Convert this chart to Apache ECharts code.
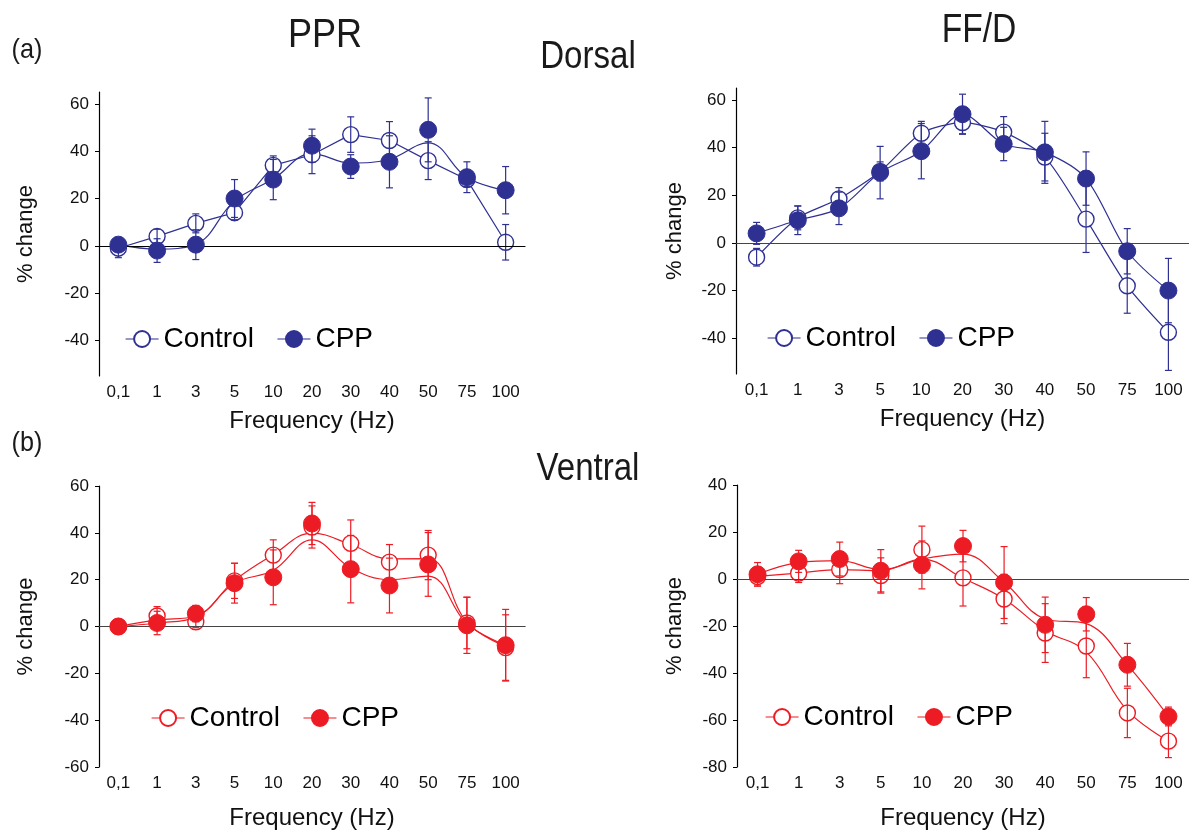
<!DOCTYPE html>
<html>
<head>
<meta charset="utf-8">
<script src="https://cdn.jsdelivr.net/npm/echarts@6/dist/echarts.min.js"></script>
<style>
  html, body { margin: 0; padding: 0; background: #fff; }
  #chart { width: 1189px; height: 831px; }
</style>
</head>
<body>
<div id="chart"></div>
<script>
var freqLabels = ['0,1', '1', '3', '5', '10', '20', '30', '40', '50', '75', '100'];

// (a) dorsal, PPR
var dorsalPprControl = [-1, 4, 9.5, 14, 34, 38.5, 47, 44.5, 36, 28, 1.5];
var dorsalPprControlErr = [4, 3, 4, 3, 4, 8, 7.5, 8, 8, 3, 7.5];
var dorsalPprCpp = [0.5, -2, 0.5, 20, 28, 42.3, 33.5, 35.5, 49, 29, 23.5];
var dorsalPprCppErr = [3, 5, 6.3, 8, 8.5, 7, 5, 11, 13.5, 6.5, 10];
var dorsalPprCppCurve = [0.5, -1.4, 0.7, 19, 28.2, 39, 35, 36.6, 43.5, 28.9, 23.4];

// (a) dorsal, FF/D
var dorsalFfdControl = [-6, 10.5, 18.5, 30, 46, 50.5, 46.5, 36, 10, -18, -37.5];
var dorsalFfdControlErr = [3.7, 5, 4.7, 4, 5, 4.7, 6.5, 10, 14, 11.5, 16];
var dorsalFfdCpp = [4, 9.5, 14.5, 29.5, 38.5, 54, 41.5, 38, 27, -3.5, -20];
var dorsalFfdCppErr = [4.6, 6, 6.8, 11, 11.6, 8.4, 7, 13, 11.2, 9.5, 13.5];

// (b) ventral, PPR
var ventralPprControl = [0, 4.5, 2, 19.5, 30.5, 42.5, 35.5, 27.5, 30.5, 1.5, -9];
var ventralPprControlErr = [2, 4, 2.5, 7.5, 6.5, 9, 10, 7.5, 10.5, 11, 14];
var ventralPprControlCurve = [0, 2.8, 4.5, 19.7, 30.7, 39.9, 35, 28.9, 29, 1.8, -8.5];
var ventralPprCpp = [0, 1.5, 5.5, 18.5, 21, 44, 24.5, 17.5, 26.5, 0.5, -8];
var ventralPprCppErr = [2, 5, 3.5, 8.5, 11.7, 9, 14.4, 11.7, 13.6, 12, 15.3];
var ventralPprCppCurve = [0, 1.5, 4, 18.5, 24, 37, 25, 20, 21.5, 1.2, -8];

// (b) ventral, FF/D
var ventralFfdControl = [1, 2.5, 4, 1.5, 12.5, 0.5, -8.5, -23, -28.5, -57, -69];
var ventralFfdControlErr = [4, 4, 6, 7.5, 10, 12, 10.5, 12.5, 13.5, 10.5, 7];
var ventralFfdControlCurve = [1.1, 2.5, 4, 3.5, 8.5, 0.3, -8.5, -22, -31, -56, -69];
var ventralFfdCpp = [2, 7.5, 8.5, 3.5, 6, 14, -1.5, -19.5, -15, -36.5, -58.5];
var ventralFfdCppErr = [5, 4.7, 7.2, 9, 10.2, 6.7, 15.3, 11.8, 7.1, 9.1, 4];
var ventralFfdCppCurve = [2, 7, 7.8, 4, 8.5, 10.6, -1.4, -17, -19, -36.5, -58.5];

var yTicksTop = [-40, -20, 0, 20, 40, 60];
var yTicksVentralPpr = [-60, -40, -20, 0, 20, 40, 60];
var yTicksVentralFfd = [-80, -60, -40, -20, 0, 20, 40];

var NAVY = '#2e3192';
var RED = '#ed1c24';
var FONT = "'Liberation Sans', Arial, sans-serif";

var panels = [
  { key: 'a1', grid: { left: 99, top: 92, width: 426, height: 284 }, min: -55, max: 65, ticks: yTicksTop,
    color: NAVY, nameGap: 33, yNameGap: 62,
    control: dorsalPprControl, controlErr: dorsalPprControlErr, controlCurve: null, controlSmooth: false,
    cpp: dorsalPprCpp, cppErr: dorsalPprCppErr, cppCurve: dorsalPprCppCurve,
    legend: { left: 120, top: 320 } },
  { key: 'a2', grid: { left: 736, top: 88, width: 456, height: 286 }, min: -55, max: 65, ticks: yTicksTop,
    color: NAVY, nameGap: 33, yNameGap: 50,
    control: dorsalFfdControl, controlErr: dorsalFfdControlErr, controlCurve: null, controlSmooth: 0.25,
    cpp: dorsalFfdCpp, cppErr: dorsalFfdCppErr, cppCurve: null,
    legend: { left: 762, top: 319 } },
  { key: 'b1', grid: { left: 99, top: 486, width: 426, height: 283 }, min: -60, max: 60, ticks: yTicksVentralPpr,
    color: RED, nameGap: 39, yNameGap: 62,
    control: ventralPprControl, controlErr: ventralPprControlErr, controlCurve: ventralPprControlCurve, controlSmooth: 0.4,
    cpp: ventralPprCpp, cppErr: ventralPprCppErr, cppCurve: ventralPprCppCurve,
    legend: { left: 146, top: 699 } },
  { key: 'b2', grid: { left: 737, top: 485, width: 456, height: 284 }, min: -80, max: 40, ticks: yTicksVentralFfd,
    color: RED, nameGap: 39, yNameGap: 51,
    control: ventralFfdControl, controlErr: ventralFfdControlErr, controlCurve: ventralFfdControlCurve, controlSmooth: 0.4,
    cpp: ventralFfdCpp, cppErr: ventralFfdCppErr, cppCurve: ventralFfdCppCurve,
    legend: { left: 760, top: 698 } }
];

function errRows(means, errs) {
  return means.map(function (m, i) { return [i, m - errs[i], m + errs[i]]; });
}

function errorBarSeries(name, idx, color, rows, z) {
  return {
    name: name, type: 'custom', xAxisIndex: idx, yAxisIndex: idx, z: z, silent: true,
    data: rows,
    renderItem: function (params, api) {
      var x = api.value(0);
      var lo = api.coord([x, api.value(1)]);
      var hi = api.coord([x, api.value(2)]);
      var w = 3.5;
      var st = { stroke: color, lineWidth: 1.2 };
      return {
        type: 'group',
        children: [
          { type: 'line', shape: { x1: lo[0], y1: lo[1], x2: hi[0], y2: hi[1] }, style: st },
          { type: 'line', shape: { x1: hi[0] - w, y1: hi[1], x2: hi[0] + w, y2: hi[1] }, style: st },
          { type: 'line', shape: { x1: lo[0] - w, y1: lo[1], x2: lo[0] + w, y2: lo[1] }, style: st }
        ]
      };
    }
  };
}

var grids = [], xAxes = [], yAxes = [], series = [], legends = [];

panels.forEach(function (p, i) {
  grids.push(p.grid);
  xAxes.push({
    type: 'category', gridIndex: i, data: freqLabels, boundaryGap: true,
    axisLine: { lineStyle: { color: '#000', width: 1.2 } },
    axisTick: { alignWithLabel: true, length: 5, lineStyle: { color: '#000' } },
    axisLabel: { fontSize: 17, color: '#111', margin: 8, fontFamily: FONT },
    name: 'Frequency (Hz)', nameLocation: 'middle', nameGap: p.nameGap,
    nameTextStyle: { fontSize: 24, color: '#111', fontFamily: FONT }
  });
  yAxes.push({
    type: 'value', gridIndex: i, min: p.min, max: p.max,
    splitLine: { show: false },
    axisLine: { show: true, lineStyle: { color: '#000', width: 1.2 } },
    axisTick: { show: true, length: 4, customValues: p.ticks, lineStyle: { color: '#000' } },
    axisLabel: { fontSize: 17, color: '#111', margin: 10, customValues: p.ticks, fontFamily: FONT },
    name: '% change', nameLocation: 'middle', nameGap: p.yNameGap, nameRotate: 90,
    nameTextStyle: { fontSize: 22, color: '#111', fontFamily: FONT }
  });

  var cName = 'Control|' + p.key;
  var pName = 'CPP|' + p.key;

  // zero line
  series.push({
    name: 'zero|' + p.key, type: 'line', xAxisIndex: i, yAxisIndex: i, data: [], silent: true,
    markLine: {
      silent: true, symbol: 'none', label: { show: false },
      lineStyle: { color: i === 0 ? '#000' : '#444', width: 1.2, type: 'solid' },
      data: [{ yAxis: 0 }]
    }
  });

  // fitted curves where they do not pass through the points
  if (p.controlCurve) {
    series.push({
      name: 'ctrlcurve|' + p.key, type: 'line', xAxisIndex: i, yAxisIndex: i, z: 2, silent: true,
      data: p.controlCurve, smooth: p.controlSmooth, showSymbol: false,
      lineStyle: { color: p.color, width: 1.2 }
    });
  }
  if (p.cppCurve) {
    series.push({
      name: 'cppcurve|' + p.key, type: 'line', xAxisIndex: i, yAxisIndex: i, z: 2, silent: true,
      data: p.cppCurve, smooth: 0.4, showSymbol: false,
      lineStyle: { color: p.color, width: 1.2 }
    });
  }

  series.push({
    name: cName, type: 'line', xAxisIndex: i, yAxisIndex: i, z: 3,
    data: p.control, smooth: p.controlSmooth,
    symbol: 'circle', symbolSize: 16,
    itemStyle: { color: '#fff', borderColor: p.color, borderWidth: 1.4 },
    lineStyle: { color: p.color, width: 1.2, opacity: p.controlCurve ? 0 : 1 }
  });
  series.push(errorBarSeries('ctrlerr|' + p.key, i, p.color, errRows(p.control, p.controlErr), 4));
  series.push(errorBarSeries('cpperr|' + p.key, i, p.color, errRows(p.cpp, p.cppErr), 5));
  series.push({
    name: pName, type: 'line', xAxisIndex: i, yAxisIndex: i, z: 6,
    data: p.cpp, smooth: 0.3,
    symbol: 'circle', symbolSize: 17,
    itemStyle: { color: p.color, borderColor: p.color, borderWidth: 1 },
    lineStyle: { color: p.color, width: 1.2, opacity: p.cppCurve ? 0 : 1 }
  });

  legends.push({
    left: p.legend.left, top: p.legend.top, orient: 'horizontal',
    itemWidth: 33, itemHeight: 20, itemGap: 23, selectedMode: false,
    textStyle: { fontSize: 28, color: '#000', fontFamily: FONT },
    formatter: function (n) { return n.split('|')[0]; },
    data: [
      { name: cName, lineStyle: { opacity: 1, color: p.color, width: 1.2 } },
      { name: pName, lineStyle: { opacity: 1, color: p.color, width: 1.2 } }
    ]
  });
});

function label(text, x, y, size, sx) {
  return {
    type: 'text', x: x, y: y, scaleX: sx || 1, silent: true,
    style: { text: text, fontSize: size, fontFamily: FONT, fill: '#1a1a1a', align: 'center', verticalAlign: 'middle' }
  };
}

var myChart = echarts.init(document.getElementById('chart'), null, { renderer: 'canvas' });
var option = {
  backgroundColor: '#fff',
  animation: false,
  grid: grids,
  xAxis: xAxes,
  yAxis: yAxes,
  legend: legends,
  graphic: [
    label('(a)', 27, 50, 28, 0.9),
    label('PPR', 325, 36, 41, 0.88),
    label('Dorsal', 588, 58, 38, 0.87),
    label('FF/D', 979, 31, 41, 0.82),
    label('(b)', 27, 443, 28, 0.9),
    label('Ventral', 588, 470, 38, 0.87)
  ],
  series: series
};
myChart.setOption(option);
</script>
</body>
</html>
